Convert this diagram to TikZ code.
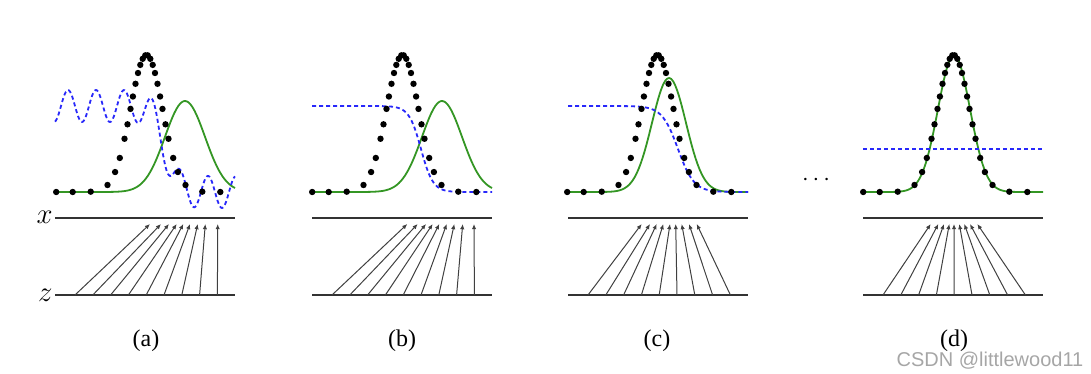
\documentclass[tikz,border=0pt]{standalone}
\usepackage{fontspec}
\setmainfont{Liberation Serif}
\newfontfamily\wmfont{Liberation Sans}
\usetikzlibrary{arrows.meta}
\definecolor{gencol}{RGB}{52,150,36}
\definecolor{disccol}{RGB}{40,40,250}

\begin{document}
\begin{tikzpicture}[x=0.5pt, y=-0.5pt,
        axis/.style={line width=1pt, black!80},
        map/.style={line width=0.5pt, black!75, -{Latex[length=2.6pt,width=2.2pt]}},
        gen/.style={line width=0.9pt, gencol},
        disc/.style={line width=0.9pt, disccol, dash pattern=on 2pt off 1.5pt},
        sub/.style={inner sep=0pt, font=\fontsize{12}{14}\selectfont}]
    \useasboundingbox (0,0) rectangle (1091,374);

    % x and z lines
    \foreach \L in {55,312,568,863} {
        \draw[axis] (\L,217.5) -- ++(180,0);
        \draw[axis] (\L,295) -- ++(180,0);
    }
    \node[anchor=east, inner sep=0pt, font=\Large] (xlab) at (53,217.5) {$x$};
    \node[anchor=east, inner sep=0pt, font=\Large] (zlab) at (53,295) {$z$};

    % mappings z -> x
    \foreach \t [count=\i from 0] in {150,161,169,176.7,183.3,190,197.7,205.3,217.7} {
        \coordinate (za\i) at (75+17.8*\i,295);
        \coordinate (xa\i) at (\t,224);
        \draw[map] (za\i) -- (xa\i);
    }
    \foreach \t [count=\i from 0] in {407.3,417.7,426,432.7,439.3,446.7,454.3,462.7,474} {
        \coordinate (zb\i) at (332+17.8*\i,295);
        \coordinate (xb\i) at (\t,224);
        \draw[map] (zb\i) -- (xb\i);
    }
    \foreach \t [count=\i from 0] in {641.7,650,656.7,663.3,670,675.7,681.7,689,696.7} {
        \coordinate (zc\i) at (588+17.8*\i,295);
        \coordinate (xc\i) at (\t,224);
        \draw[map] (zc\i) -- (xc\i);
    }
    \foreach \t [count=\i from 0] in {930.7,938.3,944,949.3,954,959.3,964.3,970,977.3} {
        \coordinate (zd\i) at (883+17.8*\i,295);
        \coordinate (xd\i) at (\t,224);
        \draw[map] (zd\i) -- (xd\i);
    }

    % generator distributions
    \draw[gen] plot[domain=55:235, samples=90] (\x,{192-91*exp(-0.5*((\x-185)/20)^2)});
    \draw[gen] plot[domain=312:492, samples=90] (\x,{192-91*exp(-0.5*((\x-442)/20)^2)});
    \draw[gen] plot[domain=568:748, samples=90] (\x,{192-114*exp(-0.5*((\x-669)/17)^2)});
    \draw[gen] plot[domain=863:1043, samples=90] (\x,{192-137*exp(-0.5*((\x-954)/16)^2)});

    % discriminators
    \draw[disc] plot[domain=55:235, samples=200]
        (\x,{106+86/(1+exp(max(-9,min(9,(165-\x)/6))))-16*cos(12.857*(\x-68))});
    \draw[disc] plot[domain=312:492, samples=120] (\x,{106+86/(1+exp(max(-9,min(9,(421-\x)/6))))});
    \draw[disc] plot[domain=568:748, samples=120] (\x,{106+86/(1+exp(max(-9,min(9,(678-\x)/8))))});
    \draw[disc] (863,149) -- (1043,149);

    % data distributions
    \foreach \c in {146.5,402.5,657.5,953.5} {
        \foreach \o in {-90.3,-73.8,-55.8,-39,-31.4,-26.7,-22,-19,-16,-13.6,-11,-8.5,-6.2,-3.8,-1.2,
                        1.2,3.8,6.2,8.5,11,13.6,16,19,22,26.7,31.4,39,55.8,73.8} {
            \fill (\c+\o,{192-137*exp(-0.5*(\o/16)^2)}) circle (1.6pt);
        }
    }

    \node[font=\large] (more) at (816,180) {$\cdots$};

    \node[sub] (la) at (146,341) {(a)};
    \node[sub] (lb) at (402,341) {(b)};
    \node[sub] (lc) at (657,341) {(c)};
    \node[sub] (ld) at (954,341) {(d)};

    \node[inner sep=0pt, font=\wmfont\fontsize{10}{12}\selectfont, text=black!35] (wm) at (990,361) {CSDN @littlewood11};
\end{tikzpicture}
\end{document}
